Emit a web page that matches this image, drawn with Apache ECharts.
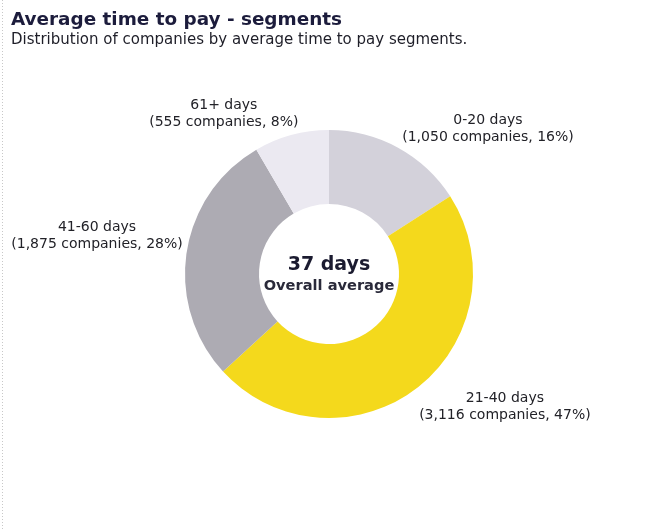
<!DOCTYPE html>
<html>
<head>
<meta charset="utf-8">
<style>
  html, body { margin: 0; padding: 0; background: #ffffff; }
  #chart { width: 653px; height: 531px; }
</style>
<script src="https://cdn.jsdelivr.net/npm/echarts@6/dist/echarts.min.js"></script>
</head>
<body>
<div id="chart"></div>
<script>
// Payment-time segments and the number of companies in each
const segments = ['0-20 days', '21-40 days', '41-60 days', '61+ days'];
const companies = [1050, 3116, 1875, 555];
const shares = [16, 47, 28, 8];
const overallAverage = '37 days';
const overallCaption = 'Overall average';

const segmentColors = ['#d3d1da', '#f4d91c', '#adabb3', '#ebe9f1'];
const FONT = '"DejaVu Sans", Verdana, sans-serif';

// small nudges applied to the library-placed labels (dx, dy)
const labelNudge = [[-8, -6], [-12, 7], [16, -15], [16, -7]];

const chart = echarts.init(document.getElementById('chart'), null, { renderer: 'canvas' });

const fmt = n => n.toLocaleString('en-US');

chart.setOption({
  animation: false,
  backgroundColor: '#ffffff',
  title: {
    text: 'Average time to pay - segments',
    subtext: 'Distribution of companies by average time to pay segments.',
    left: 6,
    top: 6,
    itemGap: 4,
    textStyle: { fontFamily: FONT, fontSize: 18.4, fontWeight: 'bold', color: '#1c1c3c' },
    subtextStyle: { fontFamily: FONT, fontSize: 15, color: '#1e1e28' }
  },
  graphic: [
    {
      type: 'line',
      shape: { x1: 2.5, y1: 0, x2: 2.5, y2: 531 },
      style: { stroke: '#c8c8c8', lineWidth: 1, lineDash: [1, 2] },
      silent: true
    },
    {
      type: 'text',
      x: 329, y: 265,
      style: {
        text: overallAverage,
        align: 'center', verticalAlign: 'middle',
        fontFamily: FONT, fontSize: 19, fontWeight: 'bold', fill: '#1b1b30'
      }
    },
    {
      type: 'text',
      x: 329, y: 286,
      style: {
        text: overallCaption,
        align: 'center', verticalAlign: 'middle',
        fontFamily: FONT, fontSize: 14.6, fontWeight: 'bold', fill: '#2a2a3a'
      }
    }
  ],
  series: [{
    type: 'pie',
    center: [329, 274],
    radius: [70, 144],
    startAngle: 90,
    clockwise: true,
    avoidLabelOverlap: false,
    itemStyle: { borderWidth: 0 },
    emphasis: { disabled: true },
    data: segments.map((s, i) => ({
      name: s,
      value: companies[i],
      itemStyle: { color: segmentColors[i] }
    })),
    label: {
      show: true,
      position: 'outside',
      fontFamily: FONT,
      fontSize: 14,
      lineHeight: 17,
      color: '#222228',
      formatter: p => `${p.name}\n(${fmt(companies[p.dataIndex])} companies, ${shares[p.dataIndex]}%)`
    },
    labelLine: { show: false, length: 15, length2: 0 },
    labelLayout: params => {
      const r = params.labelRect;
      const n = labelNudge[params.dataIndex];
      return {
        x: r.x + r.width / 2 + n[0],
        y: r.y + r.height / 2 + n[1],
        align: 'center',
        verticalAlign: 'middle'
      };
    }
  }]
});
</script>
</body>
</html>
